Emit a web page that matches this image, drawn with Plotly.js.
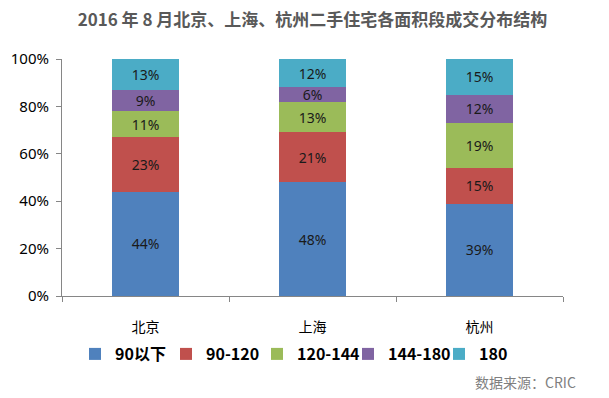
<!DOCTYPE html>
<html>
<head>
<meta charset="utf-8">
<script src="https://cdn.plot.ly/plotly-3.0.1.min.js"></script>
<style>html,body{margin:0;padding:0;background:#fff;}#chart{width:609px;height:398px;}</style>
</head>
<body>
<div id="chart"></div>
<script>
const cities = ['北京', '上海', '杭州'];
const seriesNames = ['90以下', '90-120', '120-144', '144-180', '180'];
const s90 = [44, 48, 39];
const s90_120 = [23, 21, 15];
const s120_144 = [11, 13, 19];
const s144_180 = [9, 6, 12];
const s180 = [13, 12, 15];
const colors = ['#4F81BD', '#C0504D', '#9BBB59', '#8064A2', '#4BACC6'];
const yTicks = [0, 20, 40, 60, 80, 100];

const allSeries = [s90, s90_120, s120_144, s144_180, s180];
const traces = allSeries.map((vals, i) => ({
  type: 'bar',
  name: seriesNames[i],
  x: cities,
  y: vals,
  marker: {color: colors[i], line: {width: 0}},
  text: vals.map(v => v + '%'),
  textposition: 'inside',
  insidetextanchor: 'middle',
  constraintext: 'none',
  textfont: {family: '"Noto Sans", sans-serif', size: 14, color: '#1a1a1a'},
  hoverinfo: 'none'
}));

const layout = {
  width: 609, height: 398,
  margin: {l: 62, r: 46, t: 59, b: 102},
  paper_bgcolor: '#fff', plot_bgcolor: '#fff',
  barmode: 'stack',
  bargap: 0.6,
  showlegend: true,
  uniformtext: {mode: 'show', minsize: 14},
  title: {
    text: '2016 年 8 月北京、上海、杭州二手住宅各面积段成交分布结构',
    font: {family: '"Noto Sans CJK SC", sans-serif', size: 17, color: '#595959', weight: 'bold'},
    x: 0.5, xanchor: 'center', xref: 'paper',
    y: 1 - 20/398, yanchor: 'middle', yref: 'container'
  },
  xaxis: {
    type: 'category',
    showline: true, linecolor: '#868686', linewidth: 1,
    ticks: 'outside', ticklen: 5, tickcolor: '#868686',
    tickson: 'boundaries',
    showgrid: false, zeroline: false,
    ticklabelstandoff: 18,
    tickfont: {family: '"Noto Sans CJK SC", sans-serif', size: 14, color: '#000'}
  },
  yaxis: {
    range: [0, 100],
    tickvals: yTicks,
    ticktext: yTicks.map(v => v + '%'),
    showline: true, linecolor: '#868686', linewidth: 1,
    ticks: 'outside', ticklen: 5, tickcolor: '#868686',
    showgrid: false, zeroline: false,
    ticklabelstandoff: 4,
    tickfont: {family: '"Noto Sans", sans-serif', size: 15, color: '#000'}
  },
  legend: {
    orientation: 'h',
    x: 75 / 609, xanchor: 'left', xref: 'container',
    y: 1 - 354/398, yanchor: 'middle', yref: 'container',
    traceorder: 'normal',
    font: {family: '"Noto Sans CJK SC", sans-serif', size: 16, color: '#000', weight: 'bold'},
    itemwidth: 30,
    entrywidth: 46,
    entrywidthmode: 'pixels',
    bgcolor: 'rgba(0,0,0,0)'
  },
  annotations: [{
    text: '数据来源：CRIC',
    xref: 'paper', yref: 'paper',
    x: (578 - 62) / 501, xanchor: 'right',
    y: (296 - 382) / 237, yanchor: 'middle',
    showarrow: false,
    font: {family: '"Noto Sans CJK SC", sans-serif', size: 14, color: '#7f7f7f'}
  }]
};

Plotly.newPlot('chart', traces, layout, {staticPlot: true, displayModeBar: false});
</script>
</body>
</html>
